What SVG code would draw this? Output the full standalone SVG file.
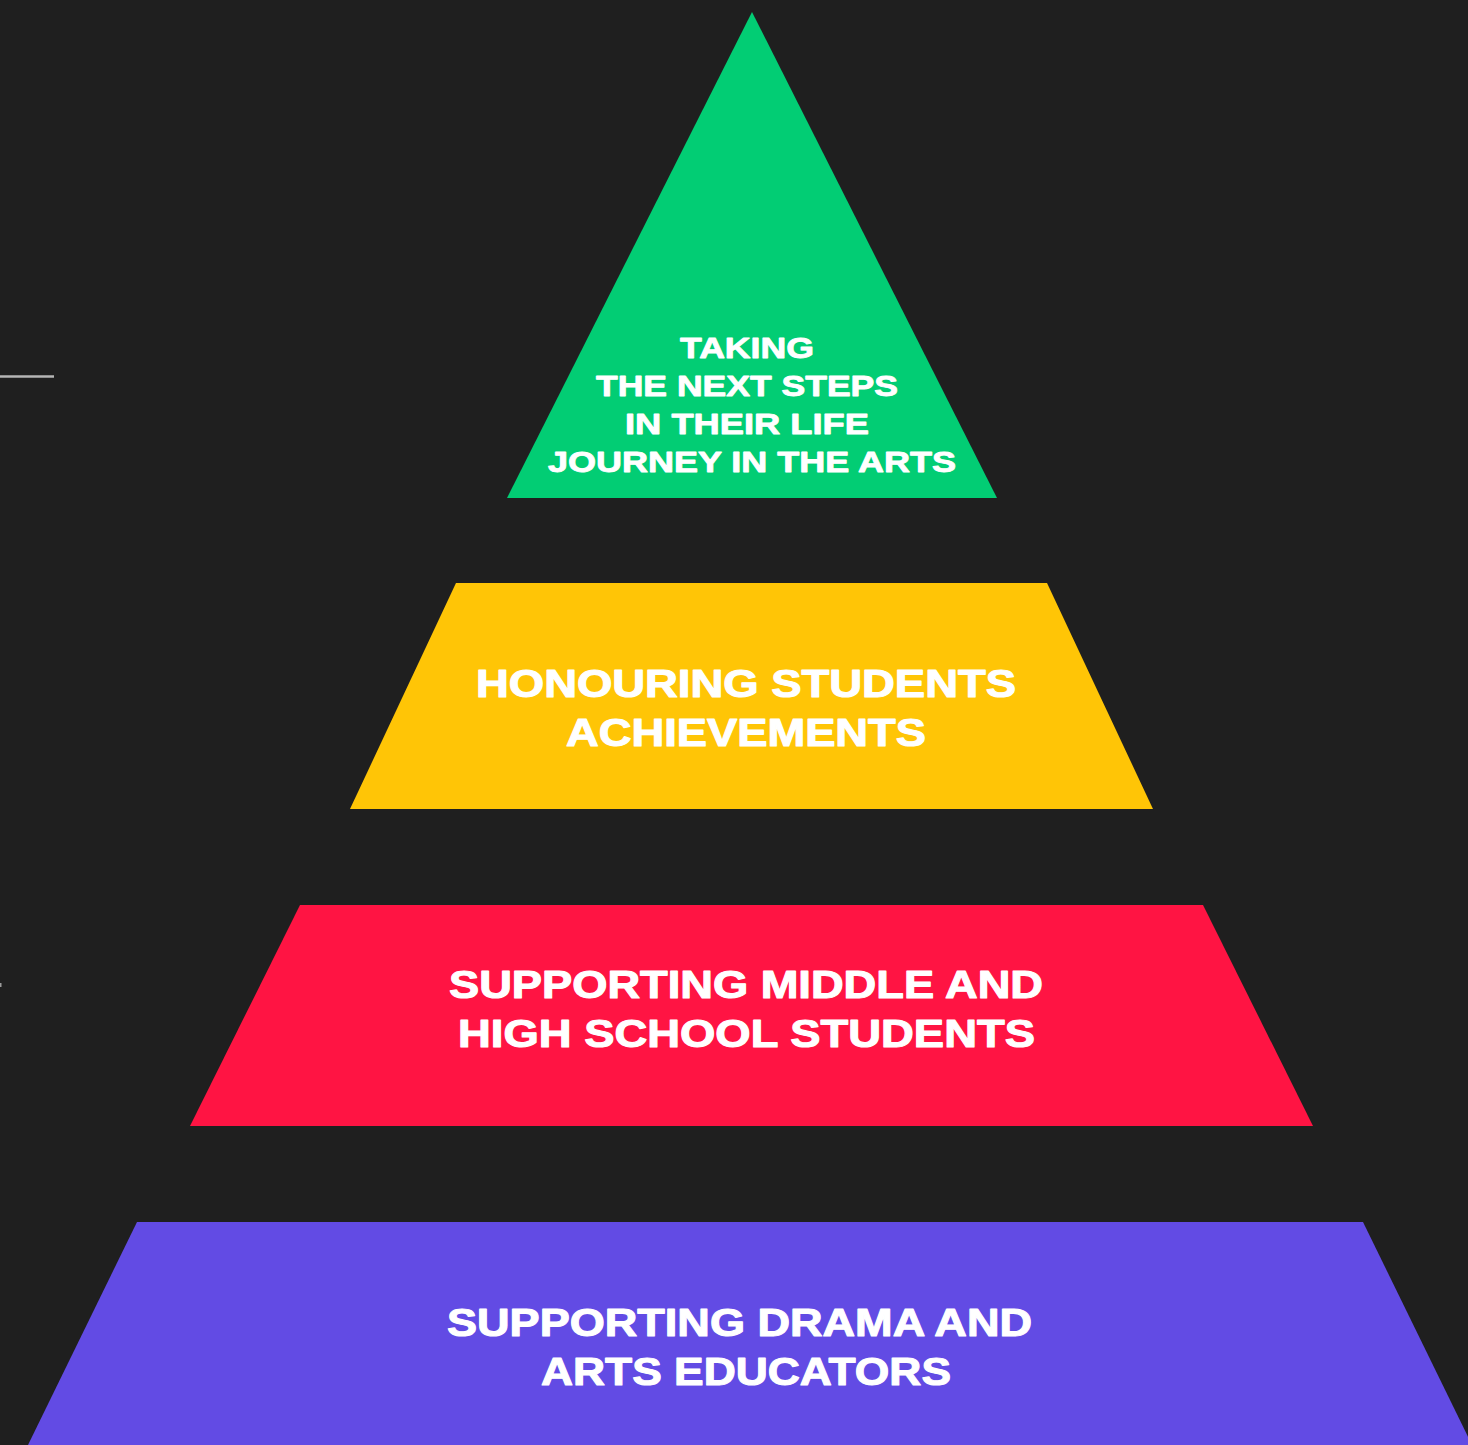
<svg xmlns="http://www.w3.org/2000/svg" width="1468" height="1445" viewBox="0 0 1468 1445">
<style>
.lbl{font-family:"Liberation Sans","Arial",sans-serif;font-weight:bold;fill:#ffffff;stroke:#ffffff;stroke-width:1.1;stroke-linejoin:round;text-anchor:middle}
.big{font-size:39px}
.sm{font-size:30px;stroke-width:0.9}
.tick{stroke:#b5b5b5;stroke-width:2.5}
</style>
<rect x="0" y="0" width="1468" height="1445" fill="#1f1f1f"/>
<line class="tick" x1="0" y1="376.5" x2="54" y2="376.5"/>
<rect x="0" y="983" width="1.5" height="4" fill="#9a9a9a"/>
<g id="tier-top">
<polygon points="752,12 997,498 507,498" fill="#02cd74"/>
<text class="lbl sm" x="747" y="358" textLength="134" lengthAdjust="spacingAndGlyphs">TAKING</text>
<text class="lbl sm" x="747" y="396" textLength="302" lengthAdjust="spacingAndGlyphs">THE NEXT STEPS</text>
<text class="lbl sm" x="747" y="434" textLength="244" lengthAdjust="spacingAndGlyphs">IN THEIR LIFE</text>
<text class="lbl sm" x="752" y="472" textLength="408" lengthAdjust="spacingAndGlyphs">JOURNEY IN THE ARTS</text>
</g>
<g id="tier-2">
<polygon points="456,583 1047,583 1153,809 350,809" fill="#ffc506"/>
<text class="lbl big" x="746" y="697" textLength="540" lengthAdjust="spacingAndGlyphs">HONOURING STUDENTS</text>
<text class="lbl big" x="746" y="746" textLength="360" lengthAdjust="spacingAndGlyphs">ACHIEVEMENTS</text>
</g>
<g id="tier-3">
<polygon points="300,905 1203,905 1313,1126 190,1126" fill="#ff1443"/>
<text class="lbl big" x="746" y="998" textLength="594" lengthAdjust="spacingAndGlyphs">SUPPORTING MIDDLE AND</text>
<text class="lbl big" x="746.5" y="1047" textLength="577" lengthAdjust="spacingAndGlyphs">HIGH SCHOOL STUDENTS</text>
</g>
<g id="tier-base">
<polygon points="137,1222 1363,1222 1472,1445 28,1445" fill="#624be4"/>
<text class="lbl big" x="739.5" y="1336" textLength="585" lengthAdjust="spacingAndGlyphs">SUPPORTING DRAMA AND</text>
<text class="lbl big" x="746" y="1385" textLength="410" lengthAdjust="spacingAndGlyphs">ARTS EDUCATORS</text>
</g>
<g id="connectors"></g>
</svg>
